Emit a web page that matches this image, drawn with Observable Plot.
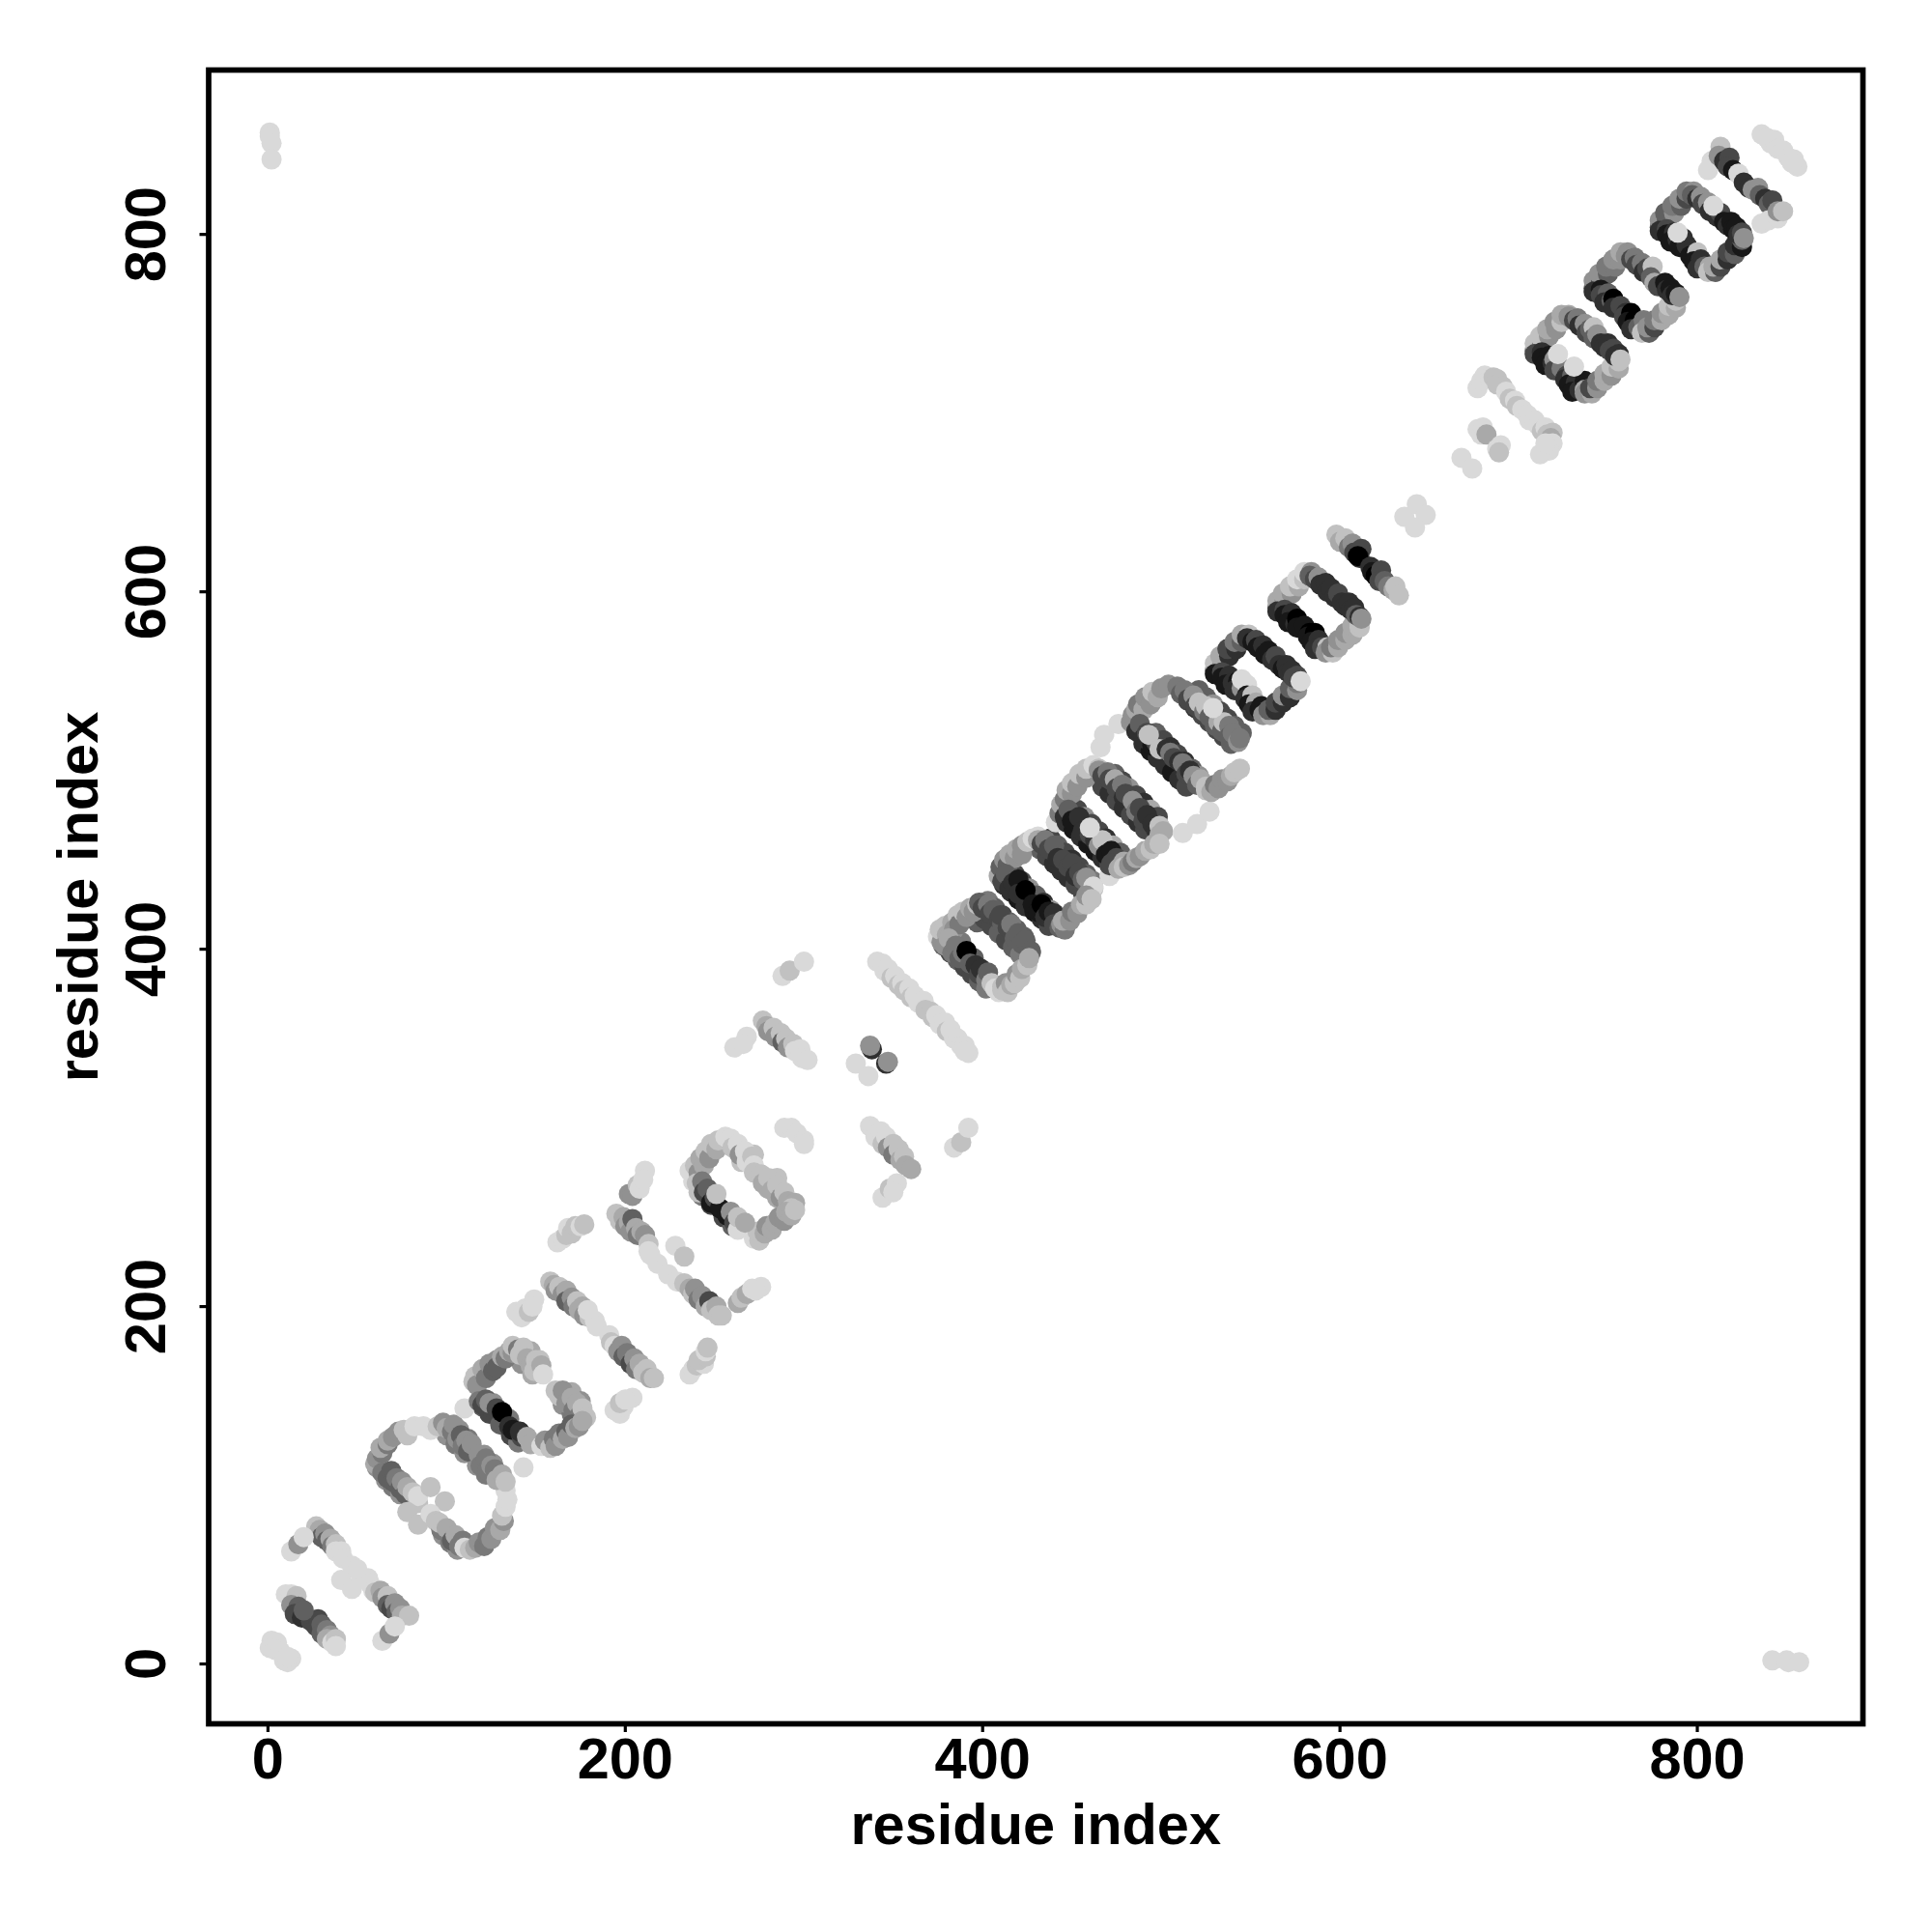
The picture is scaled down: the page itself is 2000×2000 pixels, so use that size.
<!DOCTYPE html>
<html><head><meta charset="utf-8">
<script src="https://cdn.jsdelivr.net/npm/d3@7"></script>
<script src="https://cdn.jsdelivr.net/npm/@observablehq/plot@0.6"></script>
<style>html,body{margin:0;padding:0;background:#fff}svg{display:block}</style>
</head><body><div id="chart"></div>
<script>
// each row: residue i, residue j, contact level 0 (faint) .. 9 (strong)
const cornerTL=[[1,857,0],[1,855,0],[2,851,0],[2,842,0]];
const cornerBR=[[842,2,0],[850,2,0],[851,1,0],[857,1,0]];
const origin=[[2,13,0],[5,12,0],[1,9,0],[4,8,0],[7,7,0],[9,2,0],[11,1,0],[13,3,0],[11,4,0]];
const dash50=[[10,39,0],[13,39,0],[16,38,1],[15,35,1],[13,33,3],[17,32,5],[15,28,6],[19,26,7],[24,24,6],[27,21,6],[28,25,6],[30,22,5],[30,17,5],[33,19,4],[35,16,3],[33,14,2],[20,30,5],[36,12,0],[38,14,1],[38,10,0]];
const dash100=[[27,77,1],[29,75,2],[30,71,5],[32,73,3],[33,69,5],[35,70,2],[36,66,4],[38,67,1],[38,63,0],[41,63,0],[42,59,0],[47,55,0],[41,47,0],[47,42,0],[52,49,0],[56,48,0],[50,53,0],[57,45,0],[59,41,0],[60,40,1],[63,41,2],[64,37,3],[67,38,1],[67,33,5],[69,31,6],[71,34,3],[72,29,5],[74,31,3],[75,27,2],[79,27,1]];
const stubs100=[[13,63,0],[17,67,3],[20,71,0],[64,13,0],[68,17,3],[71,21,0]];
const under1=[[66,103,3],[70,99,4],[74,95,3],[98,72,3],[102,68,4],[106,64,3],[100,128,3],[105,123,4],[110,118,3],[117,111,3],[122,106,4],[107,131,3],[112,126,4],[121,117,3],[126,112,3]];
const zero1=[[61,110,3],[60,112,2],[61,115,3],[64,118,4],[63,121,2],[67,123,4],[67,125,2],[70,127,3],[73,130,3],[76,131,1],[78,128,1],[82,133,0],[87,133,0],[91,131,0],
[64,107,4],[67,104,5],[69,108,5],[70,102,5],[72,104,4],[74,98,5],[75,102,3],[77,95,5],[78,99,2],[81,96,1],[84,90,1],[84,94,0],[91,99,1],[99,91,1],[78,85,1],[84,78,1],
[91,84,0],[94,80,1],[97,75,4],[96,79,1],[100,76,2],[103,69,5],[105,72,2],[107,66,4],[109,69,4],[110,65,0],[113,64,1],
[116,65,2],[118,68,3],[121,66,4],[123,71,4],[125,70,3],[127,76,3],[130,75,2],[132,80,3],[131,83,1],[133,88,0],[134,92,0],[133,97,0],
[95,133,1],[98,135,3],[100,132,2],[103,130,4],[104,134,3],[106,126,3],[108,128,5],[109,122,4],[111,125,3],[112,119,5],[114,123,3],
[118,117,3],[119,111,4],[122,115,4],[123,108,4],[125,111,3],[127,109,4],[128,103,2],[131,106,2],[133,102,1]];
const under2=[[120,144,5],[124,140,6],[130,134,5],[136,128,6],[140,124,4],[126,146,3],[135,137,4],[142,168,3],[148,162,2],[165,145,3],[170,140,4],[147,175,2],[152,170,1],[170,152,2],[175,147,3]];
const zero2=[[110,143,0],[143,110,0],[115,158,1],[116,161,1],[117,156,3],[120,165,2],[122,160,4],[124,168,3],[126,164,5],[128,170,3],[128,166,5],[131,172,2],[133,171,4],[135,175,2],[137,174,3],
[118,147,4],[120,145,6],[122,148,5],[125,143,6],[124,146,3],[128,143,6],[131,141,9],[135,133,7],[137,131,8],[140,130,8],[142,127,6],[141,130,7],[145,127,2],[147,123,2],
[137,178,1],[140,176,4],[141,173,1],[143,177,1],[145,171,2],[147,167,2],[150,170,1],[149,164,1],[153,167,2],[154,162,0],
[161,153,1],[163,150,1],[165,153,3],[167,146,3],[170,149,2],[171,142,4],[173,146,2],[175,140,4],[176,143,1],[178,138,1],
[153,122,0],[155,125,3],[158,121,1],[160,126,4],[161,122,3],[163,129,4],[165,126,2],[167,130,5],[168,127,3],[170,134,5],[172,132,2],[174,133,3],[176,136,2]];
const dash190=[[139,197,0],[142,194,0],[144,199,0],[146,197,1],[149,204,0],[148,200,0],
[158,214,1],[160,212,2],[161,209,3],[163,211,1],[165,207,3],[167,209,2],[167,203,5],[170,205,3],[171,200,4],[173,203,1],[174,198,2],[176,200,2],[177,195,3],[180,194,1],[179,198,0],[183,192,0],[184,189,0],
[191,184,0],[192,180,1],[194,178,0],[196,175,3],[198,178,3],[199,172,5],[201,174,4],[203,168,6],[205,171,3],[206,165,4],[208,168,2],[210,163,1],[212,165,1],[214,160,2],[216,160,1],
[197,140,0],[194,142,0],[199,144,0],[197,146,1],[204,149,0],[200,148,0]];
const slash240=[[162,236,0],[165,238,0],[167,240,1],[168,244,0],[170,241,1],[172,245,1],[175,245,0],[177,246,1],[236,162,0],[238,165,0],[240,167,1],[244,168,0],[241,170,1],[245,172,1],[245,175,0],[246,177,1]];
const dash224=[[195,252,1],[197,248,1],[199,250,2],[200,245,3],[202,247,2],[203,242,3],[204,249,5],[206,244,2],[207,240,4],[209,242,2],[211,240,3],[213,235,1],[213,231,0],
[218,224,0],[224,218,0],[214,229,0],[228,234,0],[233,228,1],[229,214,0],
[233,213,1],[236,210,2],[238,207,1],[239,210,3],[241,204,4],[243,206,3],[245,200,2],[247,203,6],[248,198,1],[251,200,2],[252,195,1],[254,195,1],
[202,263,3],[204,262,3],[207,268,1],[208,266,0],[211,276,0],[210,271,0],[263,202,2],[265,205,1],[268,207,2],[271,210,0],[276,211,0],[273,209,0]];
const under270=[[243,262,4],[248,257,6],[255,250,6],[260,245,5],[265,281,1],[280,266,2],[285,261,2],[272,285,1],[285,272,1]];
const zero270=[[236,276,0],[238,270,0],[239,279,1],[241,275,3],[242,283,2],[244,279,2],[245,287,1],[247,283,3],[248,291,1],[251,288,2],[252,293,1],[256,295,0],[259,294,0],
[260,289,1],[263,291,0],[264,285,3],[267,287,0],[268,281,0],[271,284,1],[272,279,0],[272,275,1],
[276,274,1],[277,269,2],[280,272,1],[282,265,2],[285,268,1],[287,261,3],[289,264,1],[291,259,2],[295,258,2],[293,255,1],
[272,238,0],[275,237,1],[274,242,1],[278,241,2],[279,245,3],[282,243,2],[284,247,2],[286,250,3],[289,248,3],[290,253,2],[293,251,2],[295,254,1],
[241,264,1],[240,269,1],[243,270,4],[244,264,6],[246,266,5],[248,258,8],[250,261,6],[253,255,8],[257,251,8],[259,253,3],[261,247,6],[263,243,0],[263,250,1],[267,247,2],[251,263,1]];
const loners300=[[289,300,0],[293,300,0],[296,297,0],[300,293,0],[300,291,0],[288,385,0],[292,388,1],[300,393,0],[384,289,0],[388,292,1],[392,300,0],[261,345,0],[268,351,0],[266,347,0],[344,261,0],[348,266,1],[352,269,0],[350,264,0]];
const dash320=[[277,360,1],[279,357,2],[280,354,3],[283,356,1],[284,351,3],[287,353,1],[288,348,5],[290,350,1],[291,345,3],[294,347,1],[295,343,0],[298,344,0],[299,339,0],[302,338,0],
[337,301,0],[339,299,0],[340,295,0],[343,298,0],[344,291,1],[346,295,0],[347,289,3],[350,291,1],[350,285,4],[353,288,1],[354,282,2],[356,284,1],[357,279,2],[360,277,2],
[329,336,0],[336,329,0],[338,344,7],[346,336,7],[337,346,3],[347,337,3]];
const long367=[[341,393,0],[344,392,0],[345,388,0],[347,389,0],[349,384,1],[351,385,0],[353,380,1],[355,381,0],[356,377,1],[359,378,0],[360,373,1],[362,374,0],[364,370,0],[367,371,0],[368,366,1],[371,365,1],[372,362,1],[374,363,0],[376,358,0],[379,359,0],[380,354,1],[382,355,0],[384,350,0],[386,350,0],[388,346,0],[390,346,0],[392,342,0],[390,343,0]];
const under400=[[378,402,5],[382,398,6],[386,394,5],[390,390,6],[394,386,6],[398,382,5],[402,378,4],[384,408,3],[388,404,4],[395,395,5],[397,415,5],[401,417,6],[405,413,6],[409,409,5],[413,405,6],[417,401,5],[421,397,4],[403,427,4],[407,423,5],[411,419,6],[415,415,5],[419,411,5],[423,407,5]];
const zero400=[[375,407,0],[377,404,3],[376,411,1],[379,413,1],[380,408,2],[383,415,2],[384,411,3],[386,419,1],[387,414,4],[389,421,1],[391,418,3],[393,423,2],[395,421,3],[397,425,1],
[379,402,3],[381,406,2],[383,398,4],[385,402,4],[387,395,5],[389,398,4],[391,399,9],[393,392,5],[396,391,7],[398,386,6],[399,389,7],[402,383,4],[403,387,5],[405,381,1],[407,378,0],[409,376,0],[411,379,1],
[398,426,5],[400,423,6],[403,425,4],[404,420,6],[406,422,5],[409,417,6],[411,414,5],[410,419,6],[414,412,6],[416,414,4],[418,406,5],[420,409,5],[422,403,5],[424,405,5],[427,398,4],[427,399,5],
[411,377,1],[413,381,3],[414,376,1],[416,380,2],[418,381,1],[419,386,3],[421,384,1],[422,389,2],[425,391,1],[426,395,2]];
const under440=[[412,436,7],[416,432,7],[420,428,8],[424,424,7],[429,421,8],[433,417,7],[437,413,6],[418,442,6],[422,438,6],[426,434,3],[430,430,5],[434,426,7],[438,422,3],[442,418,5],[432,456,5],[436,452,6],[440,448,7],[444,444,7],[448,440,7],[452,436,6],[456,432,6],[438,462,6],[442,458,5],[446,454,6],[450,450,7],[454,446,6],[458,442,5],[462,438,4]];
const zero440=[[409,441,2],[410,446,5],[412,450,3],[414,447,5],[415,453,2],[418,451,3],[419,456,2],[422,458,3],[422,453,3],[425,460,1],[428,462,0],[431,463,0],
[411,438,6],[413,442,5],[415,434,7],[417,437,7],[420,439,8],[420,431,7],[424,433,9],[428,425,8],[431,421,8],[433,425,9],[435,418,7],[437,421,8],[440,420,7],[440,414,6],[443,412,5],
[431,461,2],[433,459,6],[435,461,4],[437,456,6],[440,458,5],[442,451,7],[445,450,6],[448,446,6],[450,448,6],[452,441,7],[454,443,6],[456,439,5],[458,440,3],[460,433,3],[462,434,1],[462,435,0],
[444,414,3],[446,411,4],[445,416,2],[449,416,3],[450,421,4],[453,420,3],[455,425,2],[458,425,1],[458,430,3],[461,428,1],[441,471,0],[471,441,0]];
const under480=[[447,471,7],[451,467,8],[455,463,7],[459,459,8],[463,455,8],[467,451,7],[471,447,6],[453,478,6],[457,474,3],[461,470,6],[465,466,6],[469,462,7],[473,458,2],[477,454,5],[467,491,6],[471,487,7],[475,483,6],[479,479,7],[483,475,6],[487,471,7],[491,467,6],[474,498,5],[478,494,6],[482,490,3],[486,486,6],[490,482,7],[494,478,2],[498,474,6]];
const zero480=[[443,476,4],[444,481,2],[446,484,4],[447,489,2],[450,487,3],[450,493,1],[453,491,3],[454,498,1],[458,496,3],[458,501,1],[462,503,0],[465,501,1],
[446,474,7],[448,478,5],[450,472,8],[454,474,7],[456,466,7],[460,464,6],[463,461,7],[465,458,3],[467,461,1],[469,453,8],[472,455,8],[475,451,6],[472,448,6],[477,446,3],[479,449,2],[460,468,0],
[465,500,3],[467,497,6],[470,499,4],[471,495,6],[474,495,2],[475,490,6],[478,492,4],[479,485,7],[480,487,6],[484,483,3],[486,477,4],[488,479,6],[490,472,6],[492,475,7],[495,470,7],[497,467,7],[499,469,1],[499,464,2],[501,466,2],
[476,445,2],[479,446,1],[482,447,3],[484,449,4],[486,451,2],[488,452,3],[491,455,2],[494,456,1],[496,459,2],[499,459,1],
[466,513,0],[468,520,0],[476,526,0],[512,465,0],[520,470,0],[527,477,0]];
const under520=[[490,515,7],[494,511,8],[498,507,7],[502,503,7],[506,499,8],[510,495,7],[514,491,6],[497,521,5],[501,517,6],[505,513,7],[509,509,6],[513,505,7],[517,501,5],[521,497,3],[515,539,6],[519,535,7],[523,531,6],[527,527,6],[531,523,6],[535,519,6],[539,515,5],[521,545,5],[525,541,5],[529,537,3],[533,533,6],[537,529,6],[541,525,5],[545,521,5]];
const zero520=[[483,527,3],[484,531,3],[486,534,2],[487,537,4],[490,534,2],[491,541,3],[494,537,3],[495,544,1],[498,541,2],[500,546,3],[504,548,3],
[486,522,7],[488,526,5],[490,518,7],[492,521,6],[495,514,8],[497,516,6],[493,520,1],[499,512,1],[503,512,7],[505,510,4],[507,507,6],[510,505,7],[512,504,4],[514,498,6],[516,500,7],[518,497,3],[520,492,5],[522,495,2],[525,491,1],
[509,547,4],[511,543,5],[513,545,4],[515,540,6],[518,542,3],[519,536,6],[521,538,1],[524,533,4],[525,536,1],[527,530,5],[530,525,5],[532,527,2],[534,522,5],[535,527,1],[538,525,4],[538,519,5],[540,521,4],[543,516,3],[544,518,4],[529,535,0],
[525,489,1],[528,488,2],[530,492,4],[532,490,3],[534,495,3],[537,494,3],[539,497,2],[541,499,1],[544,501,1]];
const zero560=[[530,556,4],[530,560,1],[534,559,3],[533,564,2],[538,564,7],[537,568,6],[542,568,7],[541,572,4],[545,572,5],[545,576,2],[549,576,1],
[530,554,8],[534,555,6],[534,552,8],[538,553,7],[536,548,8],[540,549,7],[543,550,8],[541,545,7],[545,546,3],[545,551,0],[548,548,0],
[548,542,8],[547,540,7],[551,542,1],[549,537,8],[553,538,2],[551,533,7],[555,534,8],[556,536,8],
[557,531,3],[561,531,2],[560,534,5],[564,534,7],[564,538,6],[568,538,7],[568,542,3],[572,541,7],[572,546,5],[576,545,3],[576,549,4],
[548,574,7],[551,572,8],[553,573,6],[554,569,8],[557,570,7],[558,565,8],[560,567,8],[562,562,7],[564,564,6],
[566,559,7],[568,557,8],[570,559,7],[571,555,7],[573,556,7],[574,552,6],[576,553,6],[578,550,0]];
const zero600=[[565,591,5],[565,595,2],[569,594,4],[568,599,2],[573,599,3],[572,603,1],[577,603,2],[576,607,0],[580,607,1],[580,611,0],[584,611,3],
[565,589,7],[569,590,6],[569,587,8],[573,588,7],[571,583,8],[575,582,7],[576,585,9],[576,580,8],[580,581,8],
[583,577,9],[582,575,8],[586,577,9],[584,572,8],[588,573,7],[586,568,7],[590,569,6],[593,569,1],
[592,566,3],[596,566,1],[595,569,4],[599,569,2],[599,573,3],[603,573,2],[603,577,3],[607,576,2],[607,581,2],[611,580,1],[611,582,1],
[583,609,5],[586,607,6],[588,608,3],[589,604,7],[592,605,7],[593,600,7],[595,602,7],[597,597,7],[599,599,6],
[601,594,7],[603,592,7],[605,594,7],[606,590,7],[608,591,7],[609,587,5],[611,586,7],[612,585,3]];
const dash615=[[598,632,1],[600,628,2],[603,630,1],[605,625,4],[607,627,3],[608,622,6],[612,624,6],[611,619,7],[610,620,9],[617,614,7],[618,611,8],[620,609,9],[623,612,6],[622,606,6],[625,606,5],[627,603,4],[630,601,2],[631,603,1],[633,598,1]];
const flower640=[[636,642,0],[643,649,0],[648,643,0],[642,636,0]];
const small680=[[668,675,0],[674,669,0],[677,691,0],[679,688,0],[680,692,0],[682,688,2],[688,680,0],[690,682,0],[689,678,1]];
const light700=[[677,714,0],[679,718,0],[681,721,0],[684,720,0],[686,720,1],[688,719,1],[688,716,1],[691,715,1],[693,712,0],[695,708,1],[698,707,0],[699,704,1],[702,702,0],[705,699,0],[706,696,0],[709,696,0],[711,693,0],[713,690,1],[715,692,0],[716,688,1],[719,689,1],[718,686,2],[719,683,0],[717,679,0],[712,677,0],[715,683,0]];
const zeroA=[[709,735,4],[709,739,1],[713,738,4],[712,743,1],[717,743,3],[716,747,2],[721,747,3],[720,751,3],[724,751,1],[724,755,2],[728,755,2],
[709,733,6],[713,734,7],[713,731,8],[717,732,8],[715,727,8],[719,728,7],[720,730,3],[720,724,6],[724,725,4],[722,733,0],
[727,721,6],[726,719,7],[730,721,5],[728,716,8],[732,717,7],[730,712,8],[734,713,7],[737,718,8],[737,713,2],[731,726,0],
[737,711,3],[741,711,2],[740,714,6],[744,714,3],[744,718,4],[748,718,2],[748,722,2],[752,721,3],[752,726,1],[756,725,2],[756,729,1],
[728,754,3],[731,752,6],[733,753,4],[734,749,7],[737,750,3],[738,745,6],[740,747,5],[742,748,1],[742,742,5],[744,744,3],
[746,739,7],[748,737,7],[750,739,7],[751,735,6],[753,736,6],[754,732,7],[756,733,7],[757,730,1]];
const zeroB=[[742,770,5],[742,774,3],[746,773,6],[745,778,3],[750,778,5],[749,782,4],[754,782,4],[753,786,3],[757,786,3],[757,790,2],[761,790,3],
[742,768,7],[746,769,8],[746,766,6],[750,767,5],[748,762,7],[752,763,5],[753,764,9],[753,759,7],[757,760,6],
[760,756,7],[759,754,6],[763,756,9],[761,751,8],[765,752,9],[763,747,7],[767,748,5],[770,752,4],
[769,745,1],[773,745,5],[772,748,3],[776,748,6],[776,752,4],[780,752,2],[780,756,3],[784,755,2],[784,760,1],[788,759,2],[788,763,1],
[760,788,3],[763,786,6],[765,787,4],[766,783,6],[769,784,4],[770,779,7],[772,781,6],[775,782,1],[774,776,5],
[776,773,2],[778,771,6],[782,773,8],[783,769,7],[785,770,8],[786,766,7],[788,767,8],[790,765,3]];
const zeroC=[[779,804,5],[779,808,3],[783,807,6],[782,812,5],[787,812,3],[786,816,4],[791,816,5],[790,820,3],[794,820,6],[794,824,4],[798,824,3],
[779,802,7],[783,803,6],[783,800,8],[787,801,7],[785,796,8],[789,797,7],[792,798,7],[790,793,8],[794,794,7],[789,801,0],
[797,790,7],[796,788,8],[800,790,1],[798,785,8],[802,786,7],[800,781,7],[804,782,5],[807,782,2],
[806,779,1],[810,779,5],[809,782,2],[813,782,6],[813,786,2],[817,786,7],[817,790,6],[821,789,5],[821,794,7],[825,793,8],[825,797,5],
[797,822,5],[800,820,7],[802,821,3],[803,817,6],[806,818,3],[807,813,7],[811,810,7],[813,812,6],[809,816,0],
[815,807,8],[817,805,7],[819,807,8],[820,803,8],[822,804,8],[823,800,7],[825,801,6],[826,798,3]];
const dash830=[[806,836,0],[808,841,0],[813,849,1],[812,844,3],[815,841,7],[818,843,6],[817,838,6],[820,836,8],[823,834,0],[826,829,7],[829,826,7],[831,825,3],[834,826,3],[835,822,5],[838,820,7],[840,817,5],[842,819,6],[836,806,0],[840,808,0],[845,809,0],[845,813,3],[848,813,1]];
const topRight=[[836,856,0],[839,854,0],[841,851,0],[843,853,0],[845,848,0],[848,847,0],[851,843,0],[854,842,0],[856,838,0],[853,840,0]];

const axisTicks=[0,200,400,600,800];
const axisLabel="residue index";
const xDomain=[-33.2,892.7];
const yDomain=[-33.5,892];
const greys=["#d9d9d9","#000000"];

const contacts=[cornerTL,cornerBR,origin,dash50,dash100,stubs100,under1,zero1,under2,zero2,dash190,slash240,dash224,under270,zero270,loners300,dash320,long367,under400,zero400,under440,zero440,under480,zero480,under520,zero520,zero560,zero600,dash615,flower640,small680,light700,zeroA,zeroB,zeroC,dash830,topRight].flat();
const font="'Liberation Sans',Arial,Helvetica,sans-serif";
const chart=Plot.plot({
  width:2000,height:2000,
  marginLeft:215.5,marginRight:72,marginTop:72,marginBottom:216,
  style:{background:"#fff",fontFamily:font},
  x:{domain:xDomain},y:{domain:yDomain},
  color:{type:"linear",domain:[0,9],range:greys},
  marks:[
    Plot.dot(contacts,{x:d=>d[0],y:d=>d[1],fill:d=>d[2],r:10.5,stroke:null}),
    Plot.frame({stroke:"#000",strokeWidth:5.7}),
    Plot.axisX({ticks:axisTicks,tickFormat:d=>String(d),tickSize:9,tickPadding:5,strokeWidth:3.2,
      fontSize:59.5,fontWeight:"bold",fontFamily:font,fill:"#000",
      label:axisLabel,labelAnchor:"center",labelArrow:"none",labelOffset:124}),
    Plot.axisY({ticks:axisTicks,tickFormat:d=>String(d),tickSize:9,tickPadding:36,tickRotate:-90,strokeWidth:3.2,
      fontSize:59.5,fontWeight:"bold",fontFamily:font,fill:"#000",
      label:axisLabel,labelAnchor:"center",labelArrow:"none",labelOffset:157})
  ]
});
document.getElementById("chart").appendChild(chart);
</script></body></html>
